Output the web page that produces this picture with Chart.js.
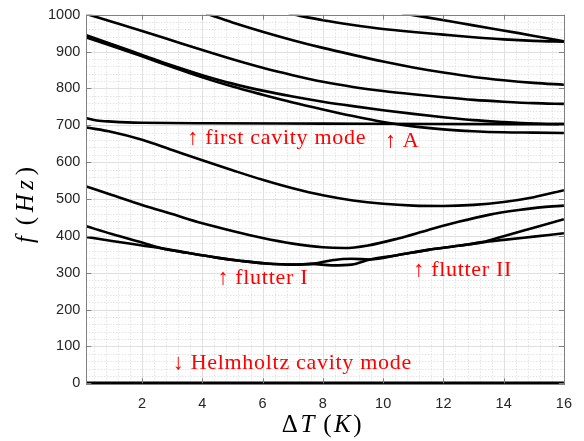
<!DOCTYPE html>
<html>
<head>
<meta charset="utf-8">
<script src="https://cdn.jsdelivr.net/npm/chart.js@4.4.1/dist/chart.umd.min.js"></script>
<style>
  html, body { margin: 0; padding: 0; background: #fff; }
</style>
</head>
<body>
<canvas id="modes" width="584" height="441"></canvas>
<script>
// temperature difference (K) and eigenfrequency (Hz) of each branch
const helmholtzT = [0.15, 16];
const helmholtzF = [1, 1];

const flutterUpT = [0.15, 1, 2, 2.67, 3.5, 4.47, 5.3, 6.12, 7, 7.64, 8.3, 8.96, 9.57, 10.5, 11.5, 12.5, 13.31, 14, 15, 16];
const flutterUpF = [426, 405, 382, 366, 354, 341, 332, 325, 322, 324, 334, 338, 336, 348, 362, 373, 383, 399, 422, 445];
const flutterLoT = [0.15, 1, 2, 2.67, 3.5, 4.47, 5.3, 6.12, 7, 7.64, 8.3, 8.96, 9.57, 10.5, 11.5, 12.5, 13.31, 14, 15, 16];
const flutterLoF = [397, 386, 374, 366, 354, 341, 332, 325, 322, 324, 320, 322, 336, 348, 362, 373, 383, 389, 398, 407];

const mode3T = [0.15, 1, 2, 3, 4, 5, 6, 7, 8, 8.7, 9.5, 10.5, 11.5, 12.5, 13.5, 14.5, 15.3, 16];
const mode3F = [534, 511, 484, 459, 434, 413, 394, 379, 369, 367, 374, 393, 416, 438, 457, 470, 478, 482];

const mode4T = [0.15, 1, 2, 3, 4, 5, 6, 7, 8, 9, 10, 11, 12, 13, 14, 15, 16];
const mode4F = [694, 682, 661, 633, 605, 578, 552, 529, 510, 496, 487, 482, 481, 484, 492, 505, 524];

const cavityT = [0.15, 0.5, 1, 1.5, 2, 4, 8, 12, 16];
const cavityF = [719, 713, 710, 708, 707, 705.5, 704.5, 703.5, 703];

const mode5aT = [0.15, 1, 2, 3, 4, 5, 6, 7, 8, 9, 10, 11, 12, 13, 14, 15, 16];
const mode5aF = [944, 920, 891, 862, 836, 813, 794, 778, 764, 752, 741, 731, 722, 714, 709, 705, 703];
const mode5bT = [0.15, 1, 2, 3, 4, 5, 6, 7, 8, 9, 10, 11, 12, 13, 14, 15, 16];
const mode5bF = [938, 915, 887, 858, 830, 805, 783, 762, 743, 725, 709, 697, 689, 684, 681, 680, 679];

const mode6T = [0.15, 1, 2, 3, 4, 5, 6, 7, 8, 9, 10, 11, 12, 13, 14, 15, 16];
const mode6F = [1002, 981, 956, 930, 904, 879, 856, 836, 818, 804, 793, 784, 776, 769, 764, 760, 758];

const mode7T = [4.12, 5, 6, 7, 8, 9, 10, 11, 12, 13, 14, 15, 16];
const mode7F = [1003, 979, 954, 931, 910, 891, 873, 857, 843, 831, 822, 815, 810];

const mode8T = [6.87, 8, 9, 10, 11, 12, 13, 14, 15, 16];
const mode8F = [1003, 985, 972, 961, 953, 946, 939, 933, 929, 927];

const mode9T = [10.61, 11.5, 12.5, 13.5, 14.5, 15.3, 16];
const mode9F = [1004, 992, 978, 964, 950, 938, 928];

const tempTicks = [2, 4, 6, 8, 10, 12, 14, 16];
const freqTicks = [0, 100, 200, 300, 400, 500, 600, 700, 800, 900, 1000];

// red notes, anchored at (dT, f) of their left edge
const notes = [
  { text: '\u2191 first cavity mode', t: 3.5, f: 666 },
  { text: '\u2191 A', t: 10.06, f: 658 },
  { text: '\u2191 flutter I', t: 4.5, f: 285 },
  { text: '\u2191 flutter II', t: 11.0, f: 306 },
  { text: '\u2193 Helmholtz cavity mode', t: 3.02, f: 54 }
];

const branches = [
  [helmholtzT, helmholtzF],
  [flutterUpT, flutterUpF],
  [flutterLoT, flutterLoF],
  [mode3T, mode3F],
  [mode4T, mode4F],
  [cavityT, cavityF],
  [mode5aT, mode5aF],
  [mode5bT, mode5bF],
  [mode6T, mode6F],
  [mode7T, mode7F],
  [mode8T, mode8F],
  [mode9T, mode9F]
];

const datasets = branches.map(([ts, fs], i) => ({
  data: ts.map((t, k) => ({ x: t, y: fs[k] })),
  showLine: true,
  borderColor: '#000',
  borderWidth: i === 0 ? 3 : 2.6,
  pointRadius: 0,
  cubicInterpolationMode: 'monotone',
  clip: i === 0 ? { left: 0, top: 0, right: 0, bottom: 3 } : 0
}));

const serif = '"Liberation Serif", "Times New Roman", serif';

// mixed upright/italic label, spread to a given width and centred on (cx, cy)
function drawMath(ctx, parts, cx, cy, size, width) {
  const fontFor = it => (it ? 'italic ' : '') + size + 'px ' + serif;
  const ws = parts.map(p => { ctx.font = fontFor(p.it); return ctx.measureText(p.s).width; });
  const natural = ws.reduce((a, b) => a + b, 0);
  const gap = Math.max(0, (width - natural) / (parts.length - 1));
  let x = cx - (natural + gap * (parts.length - 1)) / 2;
  parts.forEach((p, i) => {
    ctx.font = fontFor(p.it);
    ctx.fillText(p.s, x, cy);
    x += ws[i] + gap;
  });
}

// matlab-like box: major/minor grid, inward ticks, frame, notes and axis titles
const frame = {
  id: 'frame',
  beforeDatasetsDraw(chart) {
    const { ctx, chartArea: a, scales: { x, y } } = chart;
    ctx.save();
    ctx.lineWidth = 1;
    ctx.strokeStyle = '#d8d8d8';
    ctx.setLineDash([1, 2]);
    ctx.beginPath();
    for (let i = 1; i < 40; i++) {
      if (i % 5 === 0) continue;
      const px = Math.round(x.getPixelForValue(i * 0.4)) + 0.5;
      if (px <= a.left + 1) continue;
      ctx.moveTo(px, a.top); ctx.lineTo(px, a.bottom);
    }
    for (let i = 1; i < 50; i++) {
      if (i % 5 === 0) continue;
      const py = Math.round(y.getPixelForValue(i * 20)) + 0.5;
      ctx.moveTo(a.left, py); ctx.lineTo(a.right, py);
    }
    ctx.stroke();
    ctx.setLineDash([]);
    ctx.strokeStyle = '#e0e0e0';
    ctx.beginPath();
    tempTicks.forEach(v => {
      const px = Math.round(x.getPixelForValue(v)) + 0.5;
      ctx.moveTo(px, a.top); ctx.lineTo(px, a.bottom);
    });
    freqTicks.forEach(v => {
      const py = Math.round(y.getPixelForValue(v)) + 0.5;
      ctx.moveTo(a.left, py); ctx.lineTo(a.right, py);
    });
    ctx.stroke();
    ctx.restore();
  },
  afterDatasetsDraw(chart) {
    const { ctx, chartArea: a, scales: { x, y } } = chart;
    ctx.save();
    ctx.strokeStyle = '#808080';
    ctx.lineWidth = 1;
    ctx.beginPath();
    const tl = 5;
    tempTicks.forEach(v => {
      const px = Math.round(x.getPixelForValue(v)) + 0.5;
      ctx.moveTo(px, a.bottom); ctx.lineTo(px, a.bottom - tl);
      ctx.moveTo(px, a.top); ctx.lineTo(px, a.top + tl);
    });
    freqTicks.forEach(v => {
      const py = Math.round(y.getPixelForValue(v)) + 0.5;
      ctx.moveTo(a.left, py); ctx.lineTo(a.left + tl, py);
      ctx.moveTo(a.right, py); ctx.lineTo(a.right - tl, py);
    });
    ctx.stroke();
    ctx.strokeRect(Math.round(a.left) + 0.5, Math.round(a.top) + 0.5,
      Math.round(a.right - a.left), Math.round(a.bottom - a.top));

    ctx.fillStyle = '#ff0000';
    ctx.font = '22px ' + serif;
    ctx.letterSpacing = '0.7px';
    ctx.textBaseline = 'middle';
    notes.forEach(n => ctx.fillText(n.text, x.getPixelForValue(n.t), y.getPixelForValue(n.f)));
    ctx.restore();
  },
  afterDraw(chart) {
    const { ctx } = chart;
    ctx.save();
    ctx.fillStyle = '#000';
    ctx.textBaseline = 'alphabetic';
    drawMath(ctx, [{ s: '\u0394' }, { s: 'T', it: true }, { s: ' (' }, { s: 'K', it: true }, { s: ')' }],
      321.7, 431.5, 25, 80);
    ctx.translate(33, 205);
    ctx.rotate(-Math.PI / 2);
    drawMath(ctx, [{ s: 'f', it: true }, { s: ' (' }, { s: 'H', it: true }, { s: 'z', it: true }, { s: ')' }],
      0, 0, 25, 76);
    ctx.restore();
  }
};

const tickFont = { family: '"Liberation Sans", Arial, sans-serif', size: 14.5 };

new Chart(document.getElementById('modes'), {
  type: 'scatter',
  data: { datasets },
  options: {
    responsive: false,
    animation: false,
    devicePixelRatio: 1,
    layout: { padding: { left: 0, right: 17.5, top: 13.3, bottom: 0 } },
    plugins: { legend: { display: false }, tooltip: { enabled: false } },
    scales: {
      x: {
        type: 'linear',
        min: 0.15,
        max: 16,
        afterBuildTicks: s => { s.ticks = tempTicks.map(v => ({ value: v })); },
        afterFit: s => { s.height = 57.7; },
        ticks: { color: '#262626', font: tickFont, padding: 12, maxRotation: 0, autoSkip: false,
          callback: v => String(v) },
        grid: { display: false, drawTicks: false },
        border: { display: false }
      },
      y: {
        type: 'linear',
        min: 0,
        max: 1000,
        afterBuildTicks: s => { s.ticks = freqTicks.map(v => ({ value: v })); },
        afterFit: s => { s.width = 86.3; },
        ticks: { color: '#262626', font: tickFont, padding: 6, autoSkip: false,
          callback: v => String(v) },
        grid: { display: false, drawTicks: false },
        border: { display: false }
      }
    }
  },
  plugins: [frame]
});
</script>
</body>
</html>
